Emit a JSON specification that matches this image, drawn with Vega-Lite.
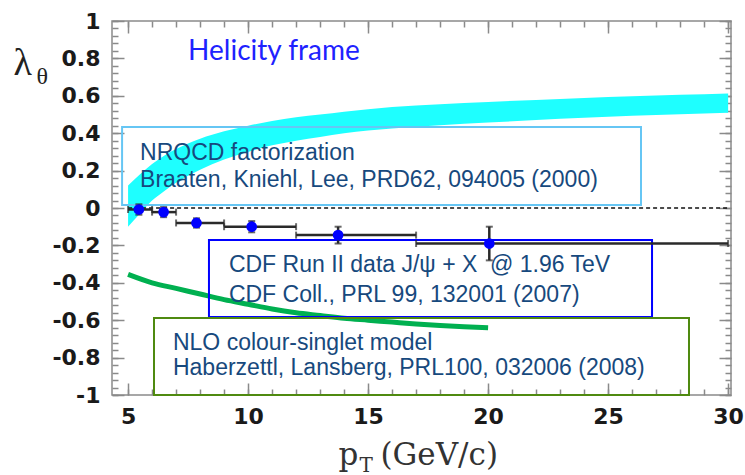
{
  "$schema": "https://vega.github.io/schema/vega-lite/v6.json",
  "width": 619,
  "height": 374,
  "autosize": {"type": "none"},
  "padding": {"left": 112, "top": 21, "right": 14, "bottom": 80},
  "background": "white",
  "config": {
    "view": {"stroke": "#8a8a8a", "strokeWidth": 1.5},
    "axis": {"grid": false, "domain": false, "tickColor": "#8a8a8a", "tickWidth": 1.5}
  },
  "datasets": {
    "band": [
      {"pt": 5, "hi": 0.12, "lo": -0.1},
      {"pt": 5.5, "hi": 0.18, "lo": -0.03},
      {"pt": 6, "hi": 0.235, "lo": 0.04},
      {"pt": 6.5, "hi": 0.28, "lo": 0.09},
      {"pt": 7, "hi": 0.315, "lo": 0.135},
      {"pt": 8, "hi": 0.37, "lo": 0.205},
      {"pt": 9, "hi": 0.41, "lo": 0.26},
      {"pt": 10, "hi": 0.44, "lo": 0.3},
      {"pt": 11, "hi": 0.465, "lo": 0.335},
      {"pt": 12, "hi": 0.485, "lo": 0.36},
      {"pt": 13, "hi": 0.5, "lo": 0.38},
      {"pt": 14, "hi": 0.515, "lo": 0.4},
      {"pt": 16, "hi": 0.54, "lo": 0.425},
      {"pt": 18, "hi": 0.555, "lo": 0.443},
      {"pt": 20, "hi": 0.567, "lo": 0.457},
      {"pt": 22, "hi": 0.578, "lo": 0.47},
      {"pt": 24, "hi": 0.588, "lo": 0.482},
      {"pt": 26, "hi": 0.597, "lo": 0.493},
      {"pt": 28, "hi": 0.605, "lo": 0.502},
      {"pt": 30, "hi": 0.612, "lo": 0.51}
    ],
    "csm": [
      {"pt": 5, "lam": -0.355},
      {"pt": 6, "lam": -0.4},
      {"pt": 7, "lam": -0.43},
      {"pt": 8, "lam": -0.46},
      {"pt": 9, "lam": -0.49},
      {"pt": 10, "lam": -0.515},
      {"pt": 11, "lam": -0.54},
      {"pt": 12, "lam": -0.56},
      {"pt": 13, "lam": -0.575},
      {"pt": 14, "lam": -0.59},
      {"pt": 15, "lam": -0.6},
      {"pt": 16, "lam": -0.61},
      {"pt": 17, "lam": -0.62},
      {"pt": 18, "lam": -0.628},
      {"pt": 19, "lam": -0.635},
      {"pt": 20, "lam": -0.64}
    ],
    "cdf": [
      {"pt": 5.45, "lam": -0.008, "xlo": 5, "xhi": 6, "ylo": -0.036, "yhi": 0.02},
      {"pt": 6.48, "lam": -0.022, "xlo": 6, "xhi": 7, "ylo": -0.049, "yhi": 0.005},
      {"pt": 7.85, "lam": -0.08, "xlo": 7, "xhi": 9, "ylo": -0.105, "yhi": -0.055},
      {"pt": 10.15, "lam": -0.1, "xlo": 9, "xhi": 12, "ylo": -0.13, "yhi": -0.07},
      {"pt": 13.75, "lam": -0.145, "xlo": 12, "xhi": 17, "ylo": -0.19, "yhi": -0.1},
      {"pt": 20.05, "lam": -0.19, "xlo": 17, "xhi": 30, "ylo": -0.28, "yhi": -0.1}
    ],
    "zero": [{"x1": 5, "x2": 30, "y": 0}],
    "boxes": [
      {"name": "nrqcd", "x1": 4.75, "x2": 26.37, "y1": 0.433, "y2": 0.016},
      {"name": "cdf", "x1": 8.37, "x2": 26.83, "y1": -0.171, "y2": -0.583},
      {"name": "nlo", "x1": 6.08, "x2": 28.37, "y1": -0.588, "y2": -1.0}
    ],
    "notes": [
      {"label": "NRQCD factorization", "x": 5.5, "y": 0.294},
      {"label": "Braaten, Kniehl, Lee, PRD62, 094005 (2000)", "x": 5.5, "y": 0.15},
      {"label": "CDF Run II data J/ψ + X \u00a0@ 1.96 TeV", "x": 9.2, "y": -0.305},
      {"label": "CDF Coll., PRL 99, 132001 (2007)", "x": 9.2, "y": -0.465},
      {"label": "NLO colour-singlet model", "x": 6.87, "y": -0.722},
      {"label": "Haberzettl, Lansberg, PRL100, 032006 (2008)", "x": 6.87, "y": -0.856}
    ],
    "frame": [{"label": "Helicity frame", "x": 7.5, "y": 0.834}]
  },
  "resolve": {"axis": {"x": "independent", "y": "independent"}},
  "layer": [
    {
      "data": {"name": "band"},
      "mark": {"type": "area", "color": "#1effff", "interpolate": "monotone"},
      "encoding": {
        "x": {"field": "pt", "type": "quantitative", "scale": {"domain": [4.33, 30.12], "nice": false, "zero": false},
          "axis": {"orient": "bottom", "values": [5, 10, 15, 20, 25, 30], "tickSize": -12, "labels": true,
            "labelFont": "DejaVu Sans", "labelFontWeight": "bold", "labelFontSize": 22, "labelColor": "#1a1a1a",
            "labelPadding": 23, "labelBaseline": "top", "title": null}},
        "y": {"field": "hi", "type": "quantitative", "scale": {"domain": [-1, 1], "nice": false, "zero": false},
          "axis": {"orient": "left", "values": [-1, -0.8, -0.6, -0.4, -0.2, 0, 0.2, 0.4, 0.6, 0.8, 1], "tickSize": -12,
            "labels": true, "labelFont": "DejaVu Sans", "labelFontWeight": "bold", "labelFontSize": 22,
            "labelColor": "#1a1a1a", "labelPadding": 24, "labelExpr": "replace(format(datum.value, '~g'), '\u2212', '-')",
            "title": null}},
        "y2": {"field": "lo"}
      }
    },
    {
      "data": {"name": "zero"},
      "mark": {"type": "rule", "color": "#111111", "strokeWidth": 1.5, "strokeDash": [4, 3]},
      "encoding": {
        "x": {"field": "x1", "type": "quantitative", "scale": {"domain": [4.33, 30.12], "nice": false, "zero": false},
          "axis": {"orient": "bottom", "values": [5, 6, 7, 8, 9, 10, 11, 12, 13, 14, 15, 16, 17, 18, 19, 20, 21, 22, 23, 24, 25, 26, 27, 28, 29, 30],
            "tickSize": -6, "labels": false, "title": null}},
        "x2": {"field": "x2"},
        "y": {"field": "y", "type": "quantitative", "scale": {"domain": [-1, 1], "nice": false, "zero": false},
          "axis": {"orient": "left", "values": [-1, -0.96, -0.92, -0.88, -0.84, -0.8, -0.76, -0.72, -0.68, -0.64, -0.6, -0.56, -0.52, -0.48, -0.44, -0.4, -0.36, -0.32, -0.28, -0.24, -0.2, -0.16, -0.12, -0.08, -0.04, 0, 0.04, 0.08, 0.12, 0.16, 0.2, 0.24, 0.28, 0.32, 0.36, 0.4, 0.44, 0.48, 0.52, 0.56, 0.6, 0.64, 0.68, 0.72, 0.76, 0.8, 0.84, 0.88, 0.92, 0.96, 1],
            "tickSize": -6, "labels": false, "title": null}}
      }
    },
    {
      "data": {"name": "csm"},
      "mark": {"type": "line", "color": "#00b050", "strokeWidth": 5, "interpolate": "monotone"},
      "encoding": {
        "x": {"field": "pt", "type": "quantitative", "scale": {"domain": [4.33, 30.12], "nice": false, "zero": false},
          "axis": {"orient": "top", "values": [5, 10, 15, 20, 25, 30], "tickSize": -12, "labels": false, "title": null}},
        "y": {"field": "lam", "type": "quantitative", "scale": {"domain": [-1, 1], "nice": false, "zero": false},
          "axis": {"orient": "right", "values": [-1, -0.8, -0.6, -0.4, -0.2, 0, 0.2, 0.4, 0.6, 0.8, 1], "tickSize": -12, "labels": false, "title": null}}
      }
    },
    {
      "data": {"name": "boxes"},
      "mark": {"type": "rect", "filled": false, "strokeWidth": 2},
      "encoding": {
        "x": {"field": "x1", "type": "quantitative", "scale": {"domain": [4.33, 30.12], "nice": false, "zero": false},
          "axis": {"orient": "top", "values": [5, 6, 7, 8, 9, 10, 11, 12, 13, 14, 15, 16, 17, 18, 19, 20, 21, 22, 23, 24, 25, 26, 27, 28, 29, 30],
            "tickSize": -6, "labels": false, "title": null}},
        "x2": {"field": "x2"},
        "y": {"field": "y1", "type": "quantitative", "scale": {"domain": [-1, 1], "nice": false, "zero": false},
          "axis": {"orient": "right", "values": [-1, -0.96, -0.92, -0.88, -0.84, -0.8, -0.76, -0.72, -0.68, -0.64, -0.6, -0.56, -0.52, -0.48, -0.44, -0.4, -0.36, -0.32, -0.28, -0.24, -0.2, -0.16, -0.12, -0.08, -0.04, 0, 0.04, 0.08, 0.12, 0.16, 0.2, 0.24, 0.28, 0.32, 0.36, 0.4, 0.44, 0.48, 0.52, 0.56, 0.6, 0.64, 0.68, 0.72, 0.76, 0.8, 0.84, 0.88, 0.92, 0.96, 1],
            "tickSize": -6, "labels": false, "title": null}},
        "y2": {"field": "y2"},
        "color": {"field": "name", "type": "nominal", "legend": null,
          "scale": {"domain": ["nrqcd", "cdf", "nlo"], "range": ["#66c6f4", "#0000ff", "#4f8a10"]}}
      }
    },
    {
      "data": {"name": "cdf"},
      "mark": {"type": "rule", "color": "#2a2a2a", "strokeWidth": 2.5},
      "encoding": {
        "x": {"field": "xlo", "type": "quantitative", "scale": {"domain": [4.33, 30.12], "nice": false, "zero": false},
          "axis": {"orient": "bottom", "ticks": false, "labels": false, "title": "p", "titleFont": "DejaVu Serif",
            "titleFontSize": 31, "titleFontWeight": "normal", "titleColor": "#333333", "titleX": 226, "titleY": 69,
            "titleAlign": "left", "titleBaseline": "alphabetic"}},
        "x2": {"field": "xhi"},
        "y": {"field": "lam", "type": "quantitative", "scale": {"domain": [-1, 1], "nice": false, "zero": false},
          "axis": {"orient": "left", "ticks": false, "labels": false, "title": "λ", "titleFont": "Liberation Serif",
            "titleFontSize": 38, "titleFontWeight": "normal", "titleColor": "#222222", "titleAngle": 0,
            "titleX": -99, "titleY": 53, "titleAlign": "left", "titleBaseline": "alphabetic"}}
      }
    },
    {
      "data": {"name": "cdf"},
      "mark": {"type": "rule", "color": "#2a2a2a", "strokeWidth": 2.5},
      "encoding": {
        "x": {"field": "pt", "type": "quantitative", "scale": {"domain": [4.33, 30.12], "nice": false, "zero": false},
          "axis": {"orient": "bottom", "ticks": false, "labels": false, "title": "T", "titleFont": "DejaVu Serif",
            "titleFontSize": 20, "titleFontWeight": "normal", "titleColor": "#333333", "titleX": 247, "titleY": 76,
            "titleAlign": "left", "titleBaseline": "alphabetic"}},
        "y": {"field": "ylo", "type": "quantitative", "scale": {"domain": [-1, 1], "nice": false, "zero": false},
          "axis": {"orient": "left", "ticks": false, "labels": false, "title": "θ", "titleFont": "Liberation Serif",
            "titleFontSize": 24, "titleFontWeight": "normal", "titleColor": "#222222", "titleAngle": 0,
            "titleX": -76, "titleY": 62, "titleAlign": "left", "titleBaseline": "alphabetic"}},
        "y2": {"field": "yhi"}
      }
    },
    {
      "data": {"name": "cdf"},
      "mark": {"type": "tick", "orient": "vertical", "color": "#2a2a2a", "size": 7, "thickness": 2},
      "encoding": {
        "x": {"field": "xlo", "type": "quantitative", "scale": {"domain": [4.33, 30.12], "nice": false, "zero": false},
          "axis": {"orient": "bottom", "ticks": false, "labels": false, "title": "(GeV/c)", "titleFont": "DejaVu Serif",
            "titleFontSize": 31, "titleFontWeight": "normal", "titleColor": "#333333", "titleX": 268, "titleY": 69,
            "titleAlign": "left", "titleBaseline": "alphabetic"}},
        "y": {"field": "lam", "type": "quantitative", "scale": {"domain": [-1, 1], "nice": false, "zero": false}, "axis": null}
      }
    },
    {
      "data": {"name": "cdf"},
      "mark": {"type": "tick", "orient": "vertical", "color": "#2a2a2a", "size": 7, "thickness": 2},
      "encoding": {
        "x": {"field": "xhi", "type": "quantitative", "scale": {"domain": [4.33, 30.12], "nice": false, "zero": false}, "axis": null},
        "y": {"field": "lam", "type": "quantitative", "scale": {"domain": [-1, 1], "nice": false, "zero": false}, "axis": null}
      }
    },
    {
      "data": {"name": "cdf"},
      "mark": {"type": "tick", "orient": "horizontal", "color": "#2a2a2a", "size": 7, "thickness": 2},
      "encoding": {
        "x": {"field": "pt", "type": "quantitative", "scale": {"domain": [4.33, 30.12], "nice": false, "zero": false}, "axis": null},
        "y": {"field": "ylo", "type": "quantitative", "scale": {"domain": [-1, 1], "nice": false, "zero": false}, "axis": null}
      }
    },
    {
      "data": {"name": "cdf"},
      "mark": {"type": "tick", "orient": "horizontal", "color": "#2a2a2a", "size": 7, "thickness": 2},
      "encoding": {
        "x": {"field": "pt", "type": "quantitative", "scale": {"domain": [4.33, 30.12], "nice": false, "zero": false}, "axis": null},
        "y": {"field": "yhi", "type": "quantitative", "scale": {"domain": [-1, 1], "nice": false, "zero": false}, "axis": null}
      }
    },
    {
      "data": {"name": "cdf"},
      "mark": {"type": "point", "shape": "circle", "filled": true, "color": "#0000ff", "size": 115, "opacity": 1},
      "encoding": {
        "x": {"field": "pt", "type": "quantitative", "scale": {"domain": [4.33, 30.12], "nice": false, "zero": false}, "axis": null},
        "y": {"field": "lam", "type": "quantitative", "scale": {"domain": [-1, 1], "nice": false, "zero": false}, "axis": null}
      }
    },
    {
      "data": {"name": "notes"},
      "mark": {"type": "text", "align": "left", "baseline": "middle", "font": "Liberation Sans", "fontSize": 23, "color": "#17497d"},
      "encoding": {
        "x": {"field": "x", "type": "quantitative", "scale": {"domain": [4.33, 30.12], "nice": false, "zero": false}, "axis": null},
        "y": {"field": "y", "type": "quantitative", "scale": {"domain": [-1, 1], "nice": false, "zero": false}, "axis": null},
        "text": {"field": "label"}
      }
    },
    {
      "data": {"name": "frame"},
      "mark": {"type": "text", "align": "left", "baseline": "middle", "font": "Lato", "fontSize": 28, "color": "#1e22ff"},
      "encoding": {
        "x": {"field": "x", "type": "quantitative", "scale": {"domain": [4.33, 30.12], "nice": false, "zero": false}, "axis": null},
        "y": {"field": "y", "type": "quantitative", "scale": {"domain": [-1, 1], "nice": false, "zero": false}, "axis": null},
        "text": {"field": "label"}
      }
    }
  ]
}
